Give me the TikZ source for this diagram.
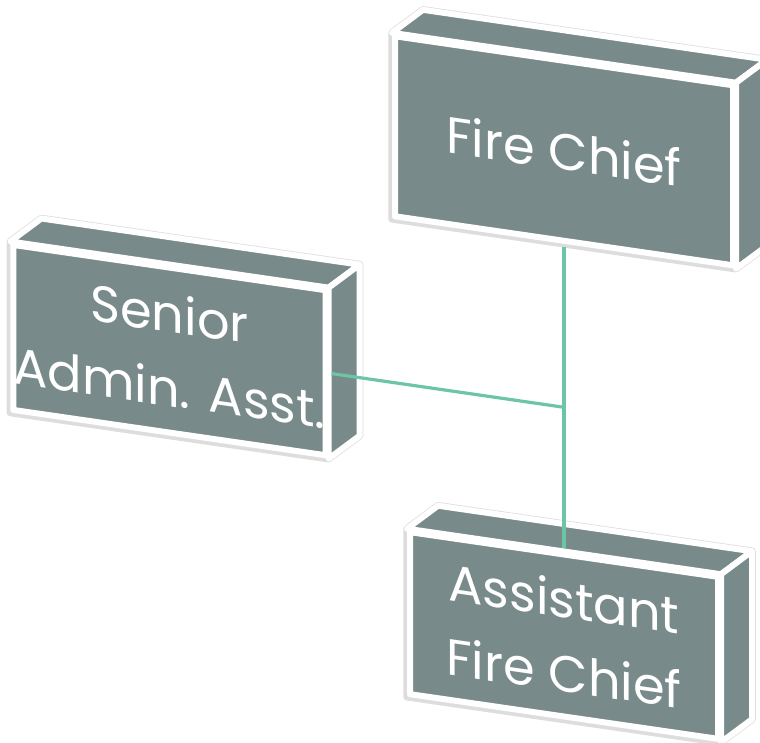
\documentclass[tikz,border=0pt]{standalone}
\usepackage{fontspec}
\setmainfont{Poppins}
\usetikzlibrary{calc,backgrounds}
\definecolor{boxgray}{HTML}{798A8A}
\definecolor{linkgreen}{HTML}{6CC5A5}
\definecolor{halogray}{HTML}{DDDDDD}
\newcommand{\dx}{31}
\newcommand{\dy}{-27.5}
% top and side of a box, plus the thin outline behind it
\newcommand{\boxfaces}[1]{%
  \begin{scope}[on background layer]
    \draw[halo] (#1.south west) -- (#1.north west) -- ($(#1.north west)+(\dx,\dy)$)
      -- ($(#1.north east)+(\dx,\dy)$) -- ($(#1.south east)+(\dx,\dy)$) -- (#1.south east) -- cycle;
  \end{scope}
  \draw[face] (#1.north west) -- ($(#1.north west)+(\dx,\dy)$) -- ($(#1.north east)+(\dx,\dy)$) -- (#1.north east) -- cycle;
  \draw[face] (#1.north east) -- ($(#1.north east)+(\dx,\dy)$) -- ($(#1.south east)+(\dx,\dy)$) -- (#1.south east) -- cycle;
}

\begin{document}
\begin{tikzpicture}[x=1pt, y=-1pt,
    rect/.style={draw=white, fill=boxgray, line width=6pt, line join=round, text=white, align=center, inner sep=0pt, font=\fontsize{51}{74}\selectfont},
    face/.style={draw=white, fill=boxgray, line width=6pt, line join=round},
    halo/.style={draw=halogray, line width=7.5pt, line join=round},
    link/.style={draw=linkgreen, line width=3.2pt}]
    \useasboundingbox (0,0) rectangle (760,742);
    \begin{scope}[cm={1,-0.145,0,1,(0,0)}, transform shape]
    % boxes
    \node[rect, minimum width=338pt, minimum height=180pt] (chief) at (564,69) {Fire Chief};
    \boxfaces{chief}
    \node[rect, minimum width=311pt, minimum height=165pt] (senior) at (169.5,325.5) {Senior\\Admin. Asst.};
    \boxfaces{senior}
    \node[rect, minimum width=308pt, minimum height=162pt] (assistant) at (564,553.7) {Assistant\\Fire Chief};
    \boxfaces{assistant}

    % links
    \coordinate (junction) at (564,325.5);
    \draw[link, shorten <=3pt, shorten >=3pt] (chief.south) -- (assistant.north);
    \draw[link, shorten <=3pt] (senior.east) -- (junction);
    \end{scope}
\end{tikzpicture}
\end{document}
